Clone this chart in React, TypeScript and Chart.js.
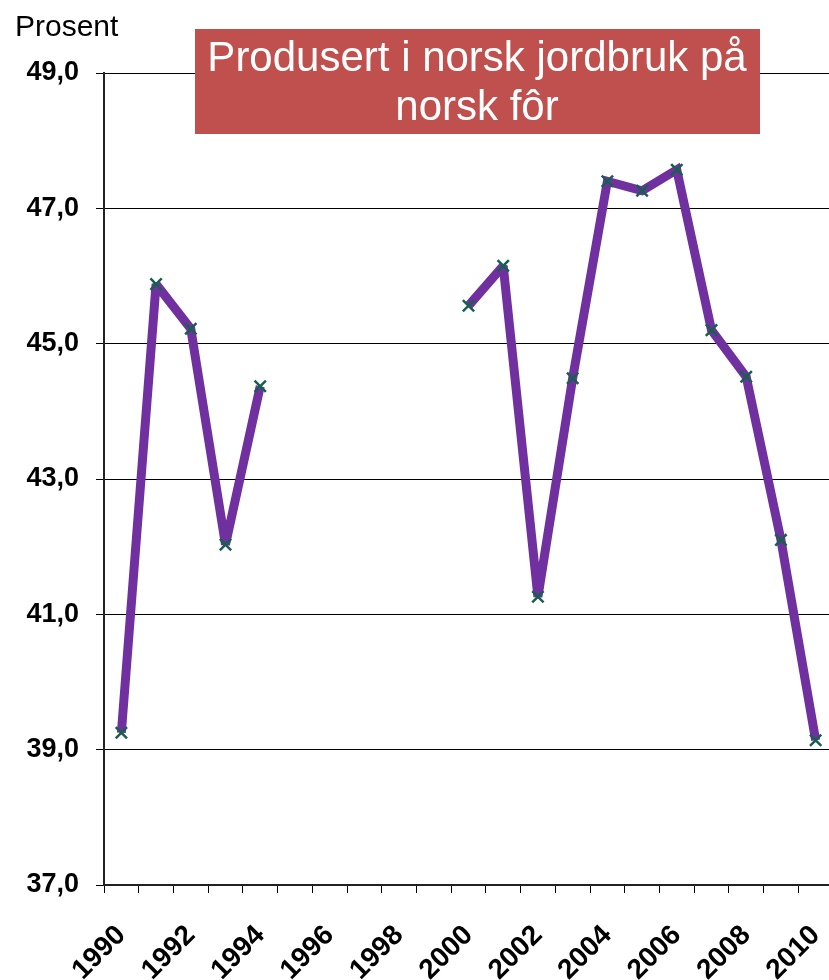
import React, { useEffect, useRef } from 'react';
import { Chart, registerables } from 'chart.js';

Chart.register(...registerables);

const years = [
  '1990', '1991', '1992', '1993', '1994', '1995', '1996', '1997', '1998', '1999', '2000',
  '2001', '2002', '2003', '2004', '2005', '2006', '2007', '2008', '2009', '2010',
];
const shares: (number | null)[] = [
  39.25, 45.88, 45.22, 42.03, 44.37, null, null, null, null, null, 45.56,
  46.15, 41.26, 44.49, 47.4, 47.26, 47.57, 45.2, 44.51, 42.1, 39.14,
];
const yTicks = [37, 39, 41, 43, 45, 47, 49];
const titleLines = ['Produsert i norsk jordbruk på', 'norsk fôr'];
const unitLabel = 'Prosent';

const FONT = '"Liberation Sans", Arial, sans-serif';

const overlayPlugin = {
  id: 'overlayText',
  beforeDatasetsDraw(chart: any) {
    chart.ctx.miterLimit = 2;
  },
  afterDraw(chart: any) {
    const ctx = chart.ctx as CanvasRenderingContext2D;
    ctx.save();
    ctx.fillStyle = '#000';
    ctx.font = `30px ${FONT}`;
    ctx.textAlign = 'left';
    ctx.textBaseline = 'alphabetic';
    ctx.fillText(unitLabel, 15, 36);

    ctx.fillStyle = '#C0504D';
    ctx.fillRect(195, 29, 565, 105);
    ctx.fillStyle = '#fff';
    ctx.font = `42px ${FONT}`;
    ctx.textAlign = 'center';
    ctx.fillText(titleLines[0], 477, 71);
    ctx.fillText(titleLines[1], 477, 120);
    ctx.restore();
  },
};

export default function App() {
  const ref = useRef<HTMLCanvasElement | null>(null);

  useEffect(() => {
    if (!ref.current) return;
    const chart = new Chart(ref.current, {
      type: 'line',
      data: {
        labels: years,
        datasets: [
          {
            data: shares,
            borderColor: '#7030A0',
            borderWidth: 9,
            borderJoinStyle: 'miter',
            tension: 0,
            spanGaps: false,
            pointStyle: 'crossRot',
            pointRadius: 8,
            pointBorderColor: '#17604F',
            pointBorderWidth: 2.5,
            pointBackgroundColor: '#17604F',
          },
        ],
      },
      options: {
        animation: false,
        responsive: false,
        layout: { padding: { top: 73, right: 12, left: 0, bottom: 0 } },
        plugins: {
          legend: { display: false },
          tooltip: { enabled: false },
          title: { display: false },
        },
        scales: {
          x: {
            type: 'category',
            offset: true,
            grid: {
              offset: true,
              drawOnChartArea: false,
              drawTicks: true,
              tickLength: 8,
              color: '#000',
              tickColor: '#000',
            },
            border: { display: true, color: '#222', width: 2 },
            ticks: {
              autoSkip: false,
              maxRotation: 45,
              minRotation: 45,
              padding: 26,
              color: '#000',
              font: { family: FONT, size: 28, weight: 'bold' },
              callback: (_v: any, i: number) => (i % 2 === 0 ? years[i] : ''),
            },
            afterFit: (scale: any) => {
              scale.height = 95;
              scale.paddingLeft = 0;
              scale.paddingRight = 0;
            },
          },
          y: {
            min: 37,
            max: 49,
            afterBuildTicks: (axis: any) => {
              axis.ticks = yTicks.map((v) => ({ value: v }));
            },
            grid: {
              color: '#000',
              lineWidth: 1,
              drawTicks: true,
              tickLength: 8,
              tickColor: '#000',
            },
            border: { display: true, color: '#222', width: 2 },
            ticks: {
              padding: 17,
              color: '#000',
              font: { family: FONT, size: 27, weight: 'bold' },
              callback: (v: any) => Number(v).toFixed(1).replace('.', ','),
            },
            afterFit: (scale: any) => {
              scale.width = 104;
            },
          },
        },
      },
      plugins: [overlayPlugin],
    });
    return () => chart.destroy();
  }, []);

  return (
    <div
      style={{
        position: 'absolute',
        left: 0,
        top: 0,
        width: 829,
        height: 980,
        overflow: 'hidden',
        background: '#fff',
      }}
    >
      <canvas ref={ref} width={845} height={980} style={{ display: 'block' }} />
    </div>
  );
}
